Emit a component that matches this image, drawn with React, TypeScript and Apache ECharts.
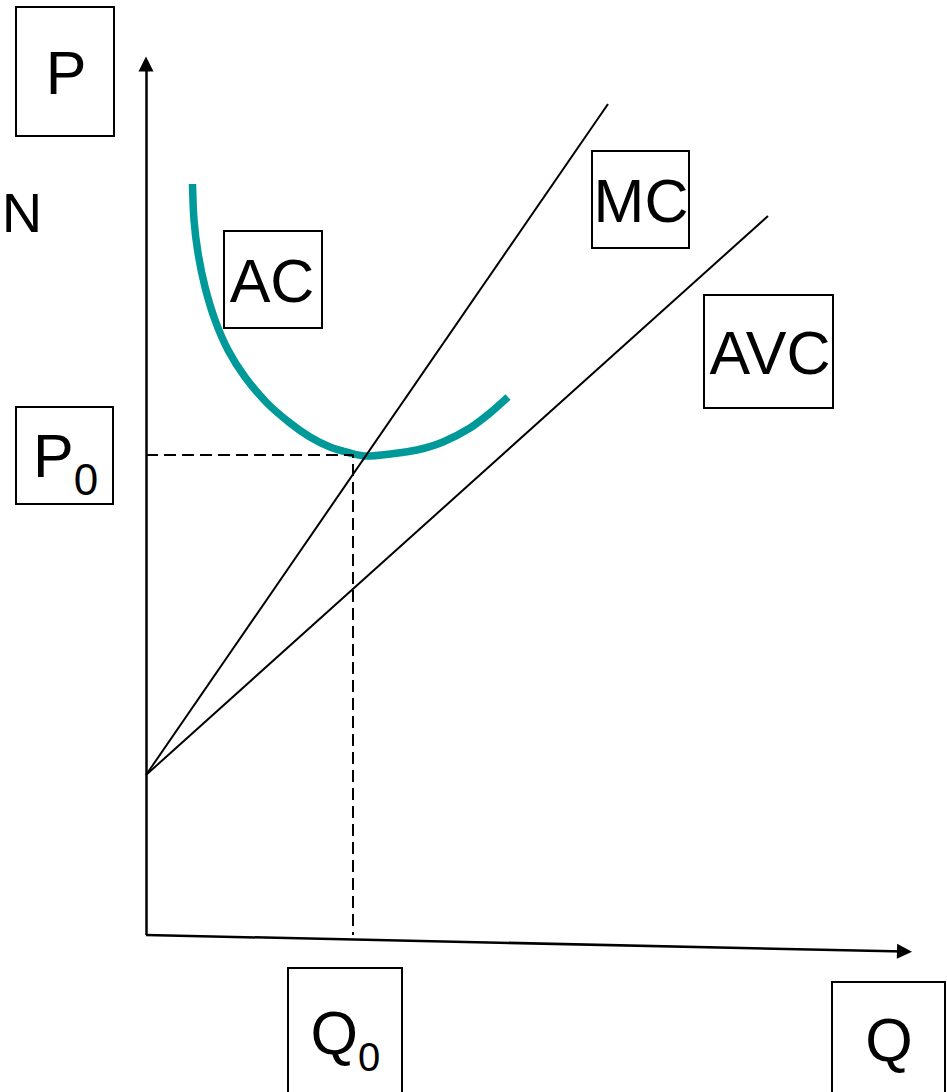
import React, { useEffect, useRef } from "react";
import * as echarts from "echarts";

// Diagram values in its own (pixel-like) units
const yAxisLine: number[][] = [[146, 935], [146, 64]];
const xAxisLine: number[][] = [[146, 935], [904.5, 951.5]];
const mcLine: number[][] = [[146, 775], [608, 104]];
const avcLine: number[][] = [[146, 775], [768, 216]];
const acCurve: number[][] = [
  [192.5, 184], [194, 220], [198, 253], [205, 287], [215, 320], [228, 350],
  [245, 377], [267, 403], [290, 423], [310, 437], [330, 447], [350, 453],
  [367, 456], [390, 454], [417, 450], [443, 442], [470, 428], [490, 413],
  [508, 397],
];
const optimumGuide: number[][] = [[146, 455], [353, 455], [353, 935]];

const FONT = "Liberation Sans";

export default function App() {
  const ref = useRef<HTMLDivElement>(null);
  useEffect(() => {
    const chart = echarts.init(ref.current!, null, { renderer: "svg" });

    const box = (x: number, y: number, w: number, h: number) => ({
      type: "rect",
      shape: { x, y, width: w, height: h },
      style: { fill: "none", stroke: "#000", lineWidth: 2 },
      z: 10,
    });
    const txt = (text: string, x: number, y: number, size: number) => ({
      type: "text",
      x,
      y,
      style: {
        text,
        fontFamily: FONT,
        fontSize: size,
        fill: "#000",
        align: "center",
        verticalAlign: "middle",
      },
      z: 11,
    });
    // main letter with a subscript, as one rich text
    const subTxt = (
      main: string,
      sub: string,
      xLeft: number,
      capCenter: number,
      mainSize: number,
      subSize: number,
      drop: number
    ) => ({
      type: "text",
      x: xLeft,
      y: capCenter + 3 - mainSize / 2,
      style: {
        text: `{m|${main}}{s|${sub}}`,
        fontFamily: FONT,
        fill: "#000",
        align: "left",
        verticalAlign: "top",
        rich: {
          m: {
            fontFamily: FONT,
            fontSize: mainSize,
            lineHeight: mainSize,
            verticalAlign: "top",
            fill: "#000",
          },
          s: {
            fontFamily: FONT,
            fontSize: subSize,
            lineHeight: mainSize / 2 + drop + subSize / 2,
            verticalAlign: "bottom",
            fill: "#000",
          },
        },
      },
      z: 11,
    });

    chart.setOption({
      animation: false,
      backgroundColor: "#fff",
      grid: { left: 0, top: 0, right: 0, bottom: 0 },
      xAxis: { type: "value", min: 0, max: 947, show: false },
      yAxis: { type: "value", min: 0, max: 1092, inverse: true, show: false },
      series: [
        {
          type: "line",
          data: acCurve,
          smooth: 0.3,
          symbol: "none",
          lineStyle: { color: "#009999", width: 7.5 },
          z: 2,
        },
        {
          type: "line",
          data: optimumGuide,
          symbol: "none",
          lineStyle: { color: "#000", width: 2, type: [12, 6] },
          z: 3,
        },
        {
          type: "line",
          data: mcLine,
          symbol: "none",
          lineStyle: { color: "#000", width: 2 },
          z: 4,
        },
        {
          type: "line",
          data: avcLine,
          symbol: "none",
          lineStyle: { color: "#000", width: 2 },
          z: 4,
        },
        {
          type: "lines",
          coordinateSystem: "cartesian2d",
          symbol: ["none", "triangle"],
          symbolSize: [15, 15],
          lineStyle: { color: "#000", width: 2.5, opacity: 1 },
          data: [{ coords: yAxisLine }, { coords: xAxisLine }],
          z: 5,
        },
      ],
      graphic: [
        box(16, 7, 98, 129),
        txt("P", 66, 73, 61),
        txt("N", 22, 212, 56),
        box(224, 231, 98, 97),
        txt("AC", 272, 281, 61),
        box(592, 151, 97, 97),
        txt("MC", 641, 201, 61),
        box(704, 295, 129, 113),
        txt("AVC", 770, 353, 61),
        box(16, 407, 97, 97),
        subTxt("P", "0", 33, 453, 61, 44, 23),
        box(288, 968, 114, 140),
        subTxt("Q", "0", 310.5, 1030, 61, 40, 23.5),
        box(832, 982, 113, 130),
        txt("Q", 889, 1040, 61),
      ],
    });
    return () => chart.dispose();
  }, []);
  return (
    <div
      ref={ref}
      style={{ position: "absolute", left: 0, top: 0, width: 947, height: 1092 }}
    />
  );
}
